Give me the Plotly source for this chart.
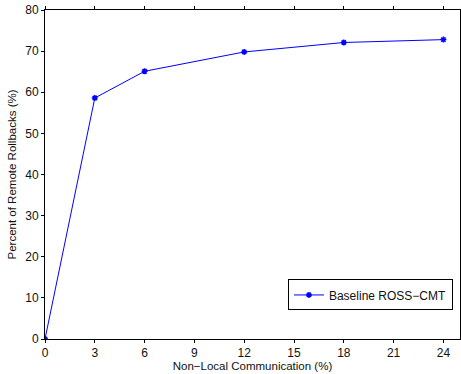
import plotly.graph_objects as go

x_vals = [0, 3, 6, 12, 18, 24]
y_vals = [0, 58.6, 65.1, 69.8, 72.1, 72.8]
x_ticks = [0, 3, 6, 9, 12, 15, 18, 21, 24]
y_ticks = [0, 10, 20, 30, 40, 50, 60, 70, 80]
series_name = "Baseline ROSS\u2212CMT"

FONT = "Liberation Sans, Arial"
fig = go.Figure()
fig.add_trace(go.Scatter(
    x=x_vals, y=y_vals, mode="lines+markers", name=series_name,
    line=dict(color="#0000ff", width=1),
    marker=dict(symbol="asterisk-open", size=5, color="#0000ff",
                line=dict(color="#0000ff", width=1.5)),
))

axis_common = dict(
    showgrid=False, zeroline=False, showline=True, linecolor="black", linewidth=1,
    ticks="outside", ticklen=3, tickwidth=1, tickcolor="black", mirror="ticks",
    tickfont=dict(family=FONT, size=12, color="#111"),
)
fig.update_xaxes(range=[0, 25], tickvals=x_ticks,
                 title=dict(text="Non\u2212Local Communication (%)", standoff=1,
                            font=dict(family=FONT, size=11.5, color="#111")),
                 **axis_common)
fig.update_yaxes(range=[0, 80], tickvals=y_ticks,
                 title=dict(text="Percent of Remote Rollbacks (%)", standoff=6,
                            font=dict(family=FONT, size=11.5, color="#111")),
                 **axis_common)

fig.update_layout(
    width=461, height=374,
    margin=dict(l=45, r=1, t=10, b=35, autoexpand=False),
    plot_bgcolor="white", paper_bgcolor="white",
    showlegend=True,
    legend=dict(x=0.983, y=0.181, xanchor="right", yanchor="top",
                bordercolor="black", borderwidth=1, bgcolor="white",
                font=dict(family=FONT, size=12, color="#111")),
)

fig.write_html("out.html", config={"displayModeBar": False},
               post_script="document.body.style.margin='0';document.body.style.padding='0';")
